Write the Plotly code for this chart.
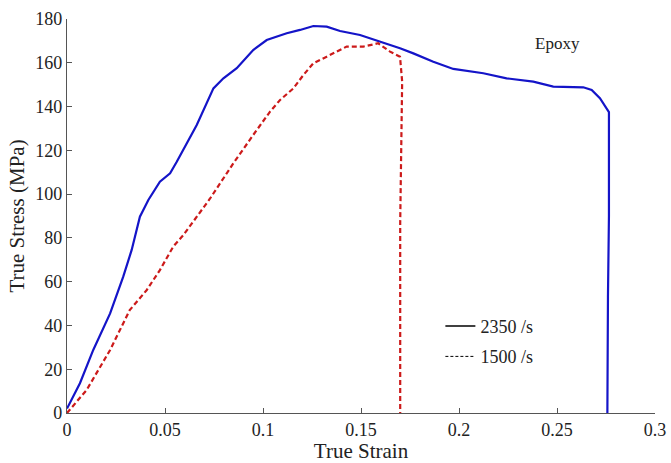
import plotly.graph_objects as go

# 2350 /s (solid blue)
strain_2350 = [0.0, 0.0066, 0.0134, 0.022, 0.0287, 0.033, 0.0372, 0.0415, 0.0474, 0.0526,
               0.056, 0.0594, 0.0662, 0.0747, 0.0798, 0.0866, 0.095, 0.1019, 0.1121, 0.1189,
               0.1257, 0.1325, 0.1393, 0.1495, 0.1597, 0.1699, 0.1767, 0.1869, 0.1971, 0.2124,
               0.2243, 0.2379, 0.2481, 0.2634, 0.2677, 0.2719, 0.2765, 0.2765, 0.2760, 0.2757]
stress_2350 = [2.0, 13.6, 28.8, 45.5, 62.3, 74.5, 89.7, 97.3, 105.7, 109.5,
               114.8, 120.2, 131.6, 148.3, 152.9, 157.5, 165.8, 170.4, 173.5, 175.0,
               176.8, 176.5, 174.5, 172.7, 169.7, 166.6, 164.3, 160.5, 157.2, 155.2,
               152.9, 151.4, 149.1, 148.8, 147.6, 143.8, 137.5, 90.0, 53.0, 0.0]

# 1500 /s (dashed red)
strain_1500 = [0.0, 0.01, 0.022, 0.032, 0.0407, 0.0474, 0.0542, 0.0594, 0.073, 0.0849,
               0.095, 0.1036, 0.1087, 0.1155, 0.1206, 0.1257, 0.1325, 0.1427, 0.1512, 0.1588,
               0.1648, 0.1699, 0.1710, 0.1706, 0.1700, 0.1700]
stress_1500 = [0.0, 10.5, 28.8, 47.0, 56.2, 65.3, 76.0, 81.3, 98.0, 114.1,
               127.0, 137.7, 143.0, 148.3, 154.4, 159.8, 162.8, 167.4, 167.4, 168.9,
               165.1, 162.8, 151.4, 120.0, 86.7, 0.0]

legend_labels = ["2350 /s", "1500 /s"]
x_ticks = [0, 0.05, 0.1, 0.15, 0.2, 0.25, 0.3]
x_tick_text = ["0", "0.05", "0.1", "0.15", "0.2", "0.25", "0.3"]
y_ticks = [0, 20, 40, 60, 80, 100, 120, 140, 160, 180]

FONT = "Liberation Serif"

fig = go.Figure()
fig.add_trace(go.Scatter(x=strain_2350, y=stress_2350, mode="lines",
                         line=dict(color="#1414c8", width=2.2), showlegend=False))
fig.add_trace(go.Scatter(x=strain_1500, y=stress_1500, mode="lines",
                         line=dict(color="#cc1a1a", width=2.2, dash="5px,3px"), showlegend=False))
# legend entries shown in black
fig.add_trace(go.Scatter(x=[None], y=[None], mode="lines", name=legend_labels[0],
                         legendgroup="a", line=dict(color="black", width=1.3)))
fig.add_trace(go.Scatter(x=[None], y=[None], mode="lines", name=legend_labels[1],
                         legendgroup="b", line=dict(color="black", width=1.0, dash="3px,2px")))

fig.add_annotation(x=0.25, y=169, text="Epoxy", showarrow=False,
                   font=dict(family=FONT, size=17, color="#222"))

axis_common = dict(showline=True, linecolor="#555", linewidth=1.2, ticks="inside",
                   ticklen=5, tickcolor="#555", showgrid=False, zeroline=False,
                   automargin=False,
                   tickfont=dict(family=FONT, size=18, color="#222"))

fig.update_layout(
    width=671, height=463,
    margin=dict(l=67, r=16, t=19, b=50),
    plot_bgcolor="white", paper_bgcolor="white",
    xaxis=dict(range=[0, 0.3], tickvals=x_ticks, ticktext=x_tick_text,
               title=dict(text="True Strain", font=dict(family=FONT, size=21, color="#222"), standoff=2),
               **axis_common),
    yaxis=dict(range=[0, 180], tickvals=y_ticks,
               title=dict(text="True Stress (MPa)", font=dict(family=FONT, size=21, color="#222"), standoff=4),
               **axis_common),
    legend=dict(x=0.635, y=0.267, xanchor="left", yanchor="top", bgcolor="rgba(0,0,0,0)",
                traceorder="grouped", tracegroupgap=4,
                font=dict(family=FONT, size=18, color="#222")),
)

fig.write_html("out.html")
